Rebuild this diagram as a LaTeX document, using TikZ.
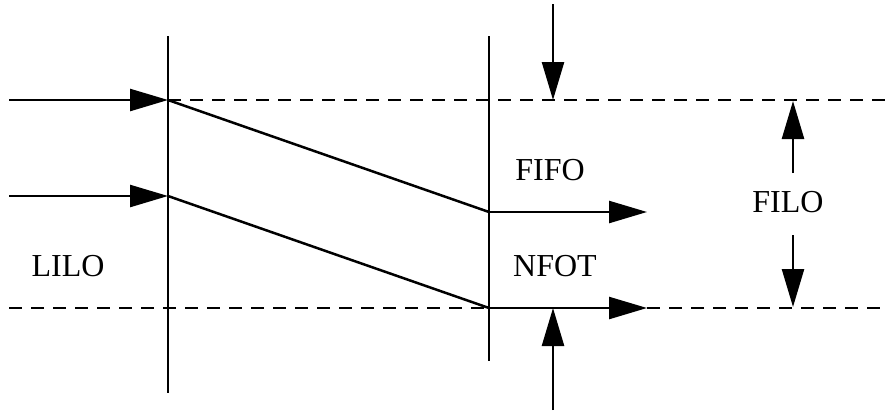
\documentclass[tikz,border=0pt]{standalone}
\usepackage{fontspec}
\setmainfont{Liberation Serif}
\usetikzlibrary{arrows.meta}
\begin{document}
\begin{tikzpicture}[x=1pt,y=-1pt,line width=2.5pt,
    arr/.style={-{Triangle[length=38pt,width=22pt]}},
    dsh/.style={dash pattern=on 13pt off 9pt},
    lbl/.style={font=\fontsize{32}{36}\selectfont}]
      \useasboundingbox (0,0) rectangle (886,410);
      % points
      \draw
        (168,36) coordinate (lt)
        (168,393) coordinate (lb)
        (489,36) coordinate (rt)
        (489,361) coordinate (rb)
        (9,100) coordinate (in1)
        (168,100) coordinate (p1)
        (9,196) coordinate (in2)
        (168,196) coordinate (p2)
        (489,212) coordinate (q1)
        (489,308) coordinate (q2)
        (647,212) coordinate (out1)
        (647,308) coordinate (out2)
        (553,4) coordinate (dtop)
        (553,100) coordinate (dtip)
        (553,410) coordinate (ubot)
        (553,308) coordinate (utip)
        (793,173) coordinate (f1)
        (793,101) coordinate (f1tip)
        (793,235) coordinate (f2)
        (793,307) coordinate (f2tip)
        (886,100) coordinate (e1)
        (9,308) coordinate (s2)
        (886,308) coordinate (e2);
      \node[lbl] (lilo) at (68,266) {LILO};
      \node[lbl] (fifo) at (550,170) {FIFO};
      \node[lbl] (nfot) at (555,266) {NFOT};
      \node[lbl] (filo) at (788,202) {FILO};
      \begin{scope}[dsh]
        \draw (p1) to (e1);
        \draw (s2) to (e2);
      \end{scope}
      \begin{scope}[-]
        \draw (lt) to (lb);
        \draw (rt) to (rb);
        \draw (p1) to (q1);
        \draw (p2) to (q2);
      \end{scope}
      \begin{scope}[arr]
        \draw (in1) to (p1);
        \draw (in2) to (p2);
        \draw (q1) to (out1);
        \draw (q2) to (out2);
        \draw (dtop) to (dtip);
        \draw (ubot) to (utip);
        \draw (f1) to (f1tip);
        \draw (f2) to (f2tip);
      \end{scope}
    \end{tikzpicture}
\end{document}
